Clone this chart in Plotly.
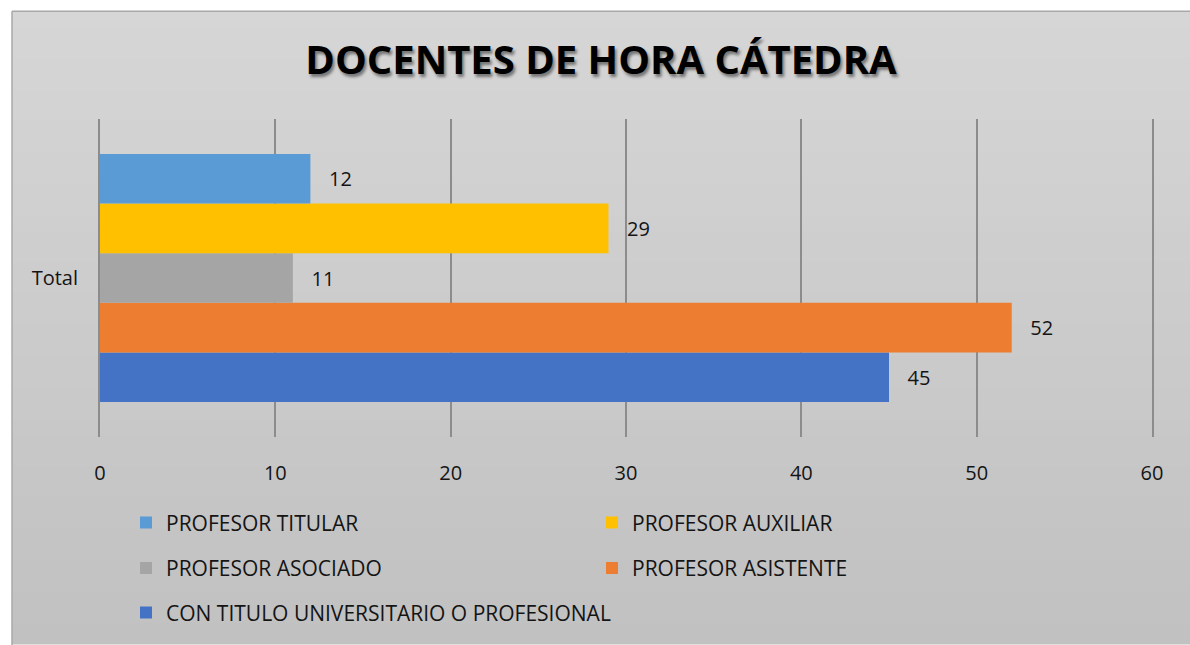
import plotly.graph_objects as go

# Series data
category = ["Total"]
series_names = [
    "PROFESOR TITULAR",
    "PROFESOR AUXILIAR",
    "PROFESOR ASOCIADO",
    "PROFESOR ASISTENTE",
    "CON TITULO UNIVERSITARIO O PROFESIONAL",
]
series_values = [12, 29, 11, 52, 45]
series_colors = ["#5B9BD5", "#FFC000", "#A5A5A5", "#ED7D31", "#4472C4"]
legend_rows = ["legend", "legend", "legend2", "legend2", "legend3"]
x_ticks = [0, 10, 20, 30, 40, 50, 60]

TEXT = "#141414"
FONT = "Open Sans"

fig = go.Figure()

# Grouped horizontal bars are laid out bottom-up, so add them in reverse order
for i in reversed(range(len(series_names))):
    fig.add_trace(go.Bar(
        y=category,
        x=[series_values[i]],
        name=series_names[i],
        orientation="h",
        marker=dict(color=series_colors[i], line=dict(width=0)),
        texttemplate="\u00a0\u00a0\u00a0%{x}",
        textposition="outside",
        textfont=dict(family=FONT, size=20, color=TEXT),
        cliponaxis=False,
        legend=legend_rows[i],
        legendrank=i,
    ))

plot_l, plot_r, plot_t, plot_b = 100, 1152, 119, 441
pw, ph = plot_r - plot_l, plot_b - plot_t


def px_x(x):
    return (x - plot_l) / pw


def px_y(y):
    return (plot_b - y) / ph


# Chart-area background: soft vertical gradient built from thin bands
shapes = []
n_bands = 40
top_rgb = (214, 214, 214)
bot_rgb = (193, 193, 193)
y0_px, y1_px = 10, 645
for k in range(n_bands):
    t = k / (n_bands - 1)
    c = tuple(round(top_rgb[j] + (bot_rgb[j] - top_rgb[j]) * t) for j in range(3))
    ya = y0_px + (y1_px - y0_px) * k / n_bands
    yb = y0_px + (y1_px - y0_px) * (k + 1) / n_bands + 1
    shapes.append(dict(
        type="rect", xref="paper", yref="paper", layer="below",
        x0=px_x(12), x1=px_x(1205), y0=px_y(yb + 5 if k == n_bands - 1 else yb), y1=px_y(ya),
        fillcolor="rgb(%d,%d,%d)" % c, line=dict(width=0),
    ))
# frame edges
shapes.append(dict(type="line", xref="paper", yref="paper", layer="below",
                   x0=px_x(12), x1=px_x(12), y0=px_y(660), y1=px_y(10),
                   line=dict(color="#a8a8a8", width=1.5)))
shapes.append(dict(type="line", xref="paper", yref="paper", layer="below",
                   x0=px_x(12), x1=px_x(1205), y0=px_y(10), y1=px_y(10),
                   line=dict(color="#a8a8a8", width=1.5)))

legend_common = dict(
    orientation="h",
    xanchor="left", yanchor="middle",
    entrywidth=421, entrywidthmode="pixels",
    font=dict(family=FONT, size=21, color=TEXT),
    bgcolor="rgba(0,0,0,0)",
    itemclick=False, itemdoubleclick=False,
    itemwidth=30,
    traceorder="normal",
)

fig.update_layout(
    width=1190, height=645,
    margin=dict(l=plot_l, r=1190 - plot_r, t=plot_t, b=645 - plot_b),
    paper_bgcolor="#ffffff",
    plot_bgcolor="rgba(0,0,0,0)",
    barmode="group",
    bargap=0.22,
    bargroupgap=0,
    title=dict(
        text="<b>DOCENTES DE HORA CÁTEDRA</b>",
        x=601 / 1190, xanchor="center",
        y=1 - 60 / 645, yanchor="middle",
        font=dict(family=FONT, size=40, color="#000000",
                  shadow="2px 3px 3px rgba(0,0,0,0.45)"),
    ),
    xaxis=dict(
        range=[0, 60],
        tickvals=x_ticks,
        showgrid=True, gridcolor="#8c8c8c", gridwidth=2,
        zeroline=False, showline=False,
        tickfont=dict(family=FONT, size=20, color=TEXT),
        ticklabelstandoff=22,
        fixedrange=True,
    ),
    yaxis=dict(
        showgrid=False, zeroline=False,
        showline=True, mirror=True, linecolor="#8c8c8c", linewidth=2,
        tickfont=dict(family=FONT, size=20, color=TEXT),
        ticklabelstandoff=16,
        fixedrange=True,
    ),
    shapes=shapes,
    legend=dict(legend_common, x=px_x(126), y=px_y(528)),
    legend2=dict(legend_common, x=px_x(126), y=px_y(574)),
    legend3=dict(legend_common, x=px_x(126), y=px_y(619), entrywidth=700),
)

fig.write_html("out.html")
